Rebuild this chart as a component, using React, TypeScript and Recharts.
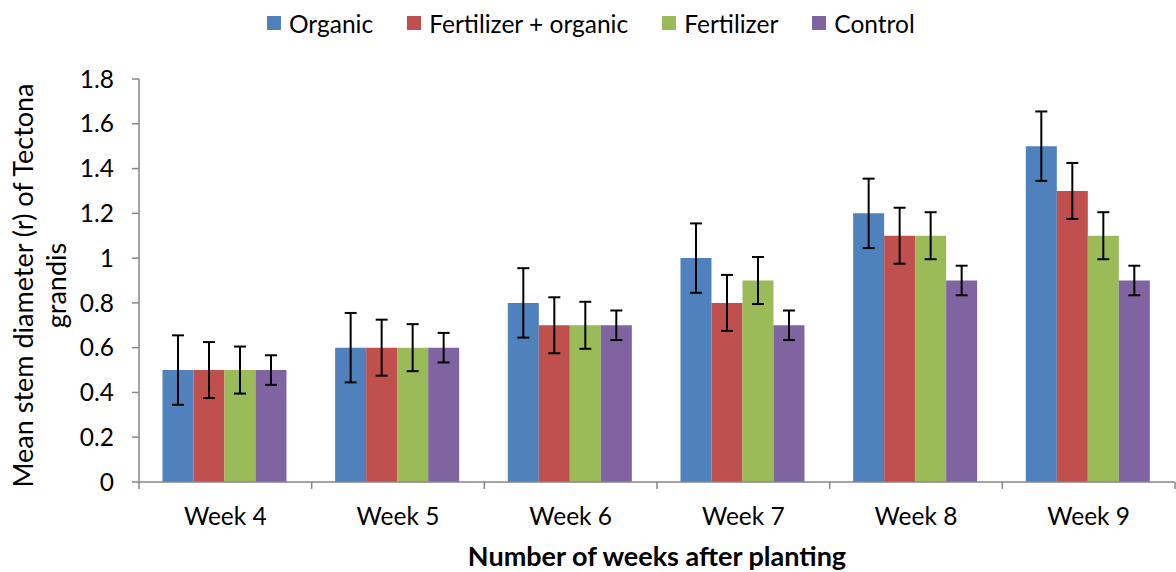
import { BarChart, Bar, XAxis, YAxis, ErrorBar, Legend } from 'recharts';

const WEEKS = ['Week 4', 'Week 5', 'Week 6', 'Week 7', 'Week 8', 'Week 9'];

const ORGANIC = [0.5, 0.6, 0.8, 1.0, 1.2, 1.5];
const FERT_ORGANIC = [0.5, 0.6, 0.7, 0.8, 1.1, 1.3];
const FERTILIZER = [0.5, 0.6, 0.7, 0.9, 1.1, 1.1];
const CONTROL = [0.5, 0.6, 0.7, 0.7, 0.9, 0.9];

const ORGANIC_ERR = [0.155, 0.155, 0.155, 0.155, 0.155, 0.155];
const FERT_ORGANIC_ERR = [0.125, 0.125, 0.125, 0.125, 0.125, 0.125];
const FERTILIZER_ERR = [0.105, 0.105, 0.105, 0.105, 0.105, 0.105];
const CONTROL_ERR = [0.066, 0.066, 0.066, 0.066, 0.066, 0.066];

const Y_TICKS = [0, 0.2, 0.4, 0.6, 0.8, 1, 1.2, 1.4, 1.6, 1.8];

const SERIES = [
  { key: 'Organic', values: ORGANIC, errors: ORGANIC_ERR, color: '#4F81BD' },
  { key: 'Fertilizer + organic', values: FERT_ORGANIC, errors: FERT_ORGANIC_ERR, color: '#C0504D' },
  { key: 'Fertilizer', values: FERTILIZER, errors: FERTILIZER_ERR, color: '#9BBB59' },
  { key: 'Control', values: CONTROL, errors: CONTROL_ERR, color: '#8064A2' },
];

const data = WEEKS.map((week, i) => {
  const row: Record<string, string | number> = { week };
  SERIES.forEach((s) => {
    row[s.key] = s.values[i];
    row[s.key + '_err'] = s.errors[i];
  });
  return row;
});

const FONT = 'Lato, "Open Sans", sans-serif';
const AXIS_COLOR = '#868686';
const TICK_SIZE = 7;
const TICK_MARGIN = 19;

function WeekTick(props: any) {
  const { x, y, payload, index } = props;
  const half = payload.offset ?? 0;
  const axisY = y - TICK_SIZE - TICK_MARGIN;
  const edges = [x - half];
  if (index === WEEKS.length - 1) edges.push(x + half);
  return (
    <g>
      {edges.map((ex) => (
        <line
          key={ex}
          x1={ex}
          x2={ex}
          y1={axisY}
          y2={axisY + TICK_SIZE}
          stroke={AXIS_COLOR}
          strokeWidth={1.5}
        />
      ))}
      <text x={x} y={y} dy="0.71em" textAnchor="middle" fill="#000" fontSize={24.5} fontFamily={FONT}>
        {payload.value}
      </text>
    </g>
  );
}

function YTitle(props: any) {
  const { viewBox } = props;
  const cy = viewBox.y + viewBox.height / 2 + 5;
  return (
    <g fontFamily={FONT} fontSize={27} fill="#000">
      <text x={33} y={cy} textAnchor="middle" transform={`rotate(-90, 33, ${cy})`}>
        Mean stem diameter (r) of Tectona
      </text>
      <text x={66} y={cy} textAnchor="middle" transform={`rotate(-90, 66, ${cy})`}>
        grandis
      </text>
    </g>
  );
}

function XTitle(props: any) {
  const { viewBox } = props;
  const cx = viewBox.x + viewBox.width / 2;
  return (
    <text x={cx} y={566} textAnchor="middle" fontFamily={FONT} fontSize={27} fontWeight="bold" fill="#000">
      Number of weeks after planting
    </text>
  );
}

function LegendBox() {
  return (
    <div
      style={{
        height: 46,
        display: 'flex',
        alignItems: 'center',
        paddingLeft: 267,
        fontFamily: FONT,
        fontSize: 24.5,
        color: '#000',
      }}
    >
      {SERIES.map((s) => (
        <div key={s.key} style={{ display: 'flex', alignItems: 'center', marginRight: 34 }}>
          <span style={{ width: 14, height: 14, background: s.color, marginRight: 8, display: 'inline-block' }} />
          <span>{s.key}</span>
        </div>
      ))}
    </div>
  );
}

export default function App() {
  return (
    <div style={{ position: 'absolute', left: 0, top: 0, width: 1176, height: 572, background: '#fff' }}>
      <BarChart
        width={1176}
        height={572}
        data={data}
        margin={{ top: 33, right: 1, left: 0, bottom: 0 }}
        barGap={0}
        barCategoryGap="13.6%"
      >
        <Legend
          verticalAlign="top"
          align="left"
          content={() => <LegendBox />}
          wrapperStyle={{ top: 0, left: 0, width: 1176 }}
        />
        <XAxis
          dataKey="week"
          height={90}
          tickSize={TICK_SIZE}
          tickMargin={TICK_MARGIN}
          tickLine={false}
          axisLine={{ stroke: AXIS_COLOR, strokeWidth: 1.5 }}
          tick={<WeekTick />}
          interval={0}
          label={{ content: <XTitle /> }}
        />
        <YAxis
          width={139}
          domain={[0, 1.8]}
          ticks={Y_TICKS}
          interval={0}
          tickSize={TICK_SIZE}
          tickMargin={18}
          axisLine={{ stroke: AXIS_COLOR, strokeWidth: 1.5 }}
          tickLine={{ stroke: AXIS_COLOR, strokeWidth: 1.5 }}
          tick={{ fill: '#000', fontSize: 24.5, fontFamily: FONT }}
          tickFormatter={(v: number) => String(Number(v.toFixed(1)))}
          label={{ content: <YTitle /> }}
        />
        {SERIES.map((s) => (
          <Bar key={s.key} dataKey={s.key} fill={s.color} isAnimationActive={false}>
            <ErrorBar dataKey={s.key + '_err'} width={6} stroke="#000" strokeWidth={2} direction="y" />
          </Bar>
        ))}
      </BarChart>
    </div>
  );
}
